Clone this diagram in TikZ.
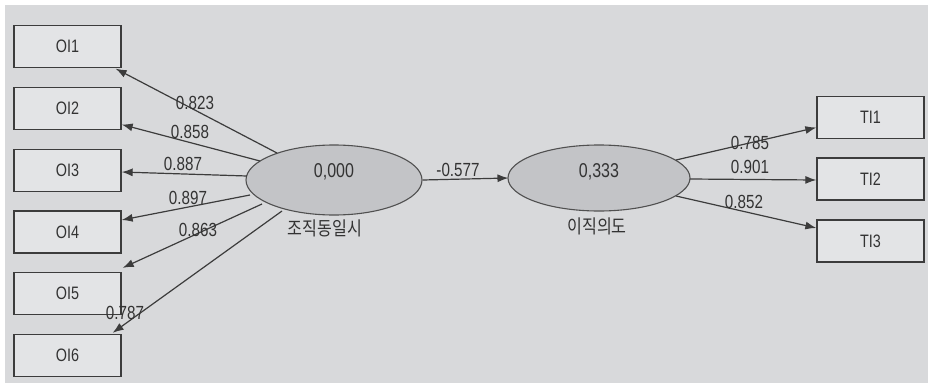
\documentclass[tikz,border=0pt]{standalone}
\usepackage{fontspec}
\setmainfont{Liberation Sans}[FakeStretch=0.8]
\newfontfamily\kfont{Noto Sans CJK KR}[FakeStretch=0.85]
\usetikzlibrary{arrows.meta,shapes.geometric}
\definecolor{panel}{HTML}{D8D9DB}
\definecolor{boxfill}{HTML}{E3E4E6}
\definecolor{latfill}{HTML}{C3C4C7}
\definecolor{edge}{HTML}{3C3C3C}
\tikzset{
  indicator/.style={draw=edge, line width=1.3pt, fill=boxfill, minimum width=107pt,
    minimum height=42pt, inner sep=0pt, font=\fontsize{18}{18}\selectfont, text=black!80},
  latent/.style={ellipse, draw=edge!90, line width=1.1pt, fill=latfill, inner sep=0pt,
    font=\fontsize{20}{20}\selectfont, text=black!80},
  path/.style={draw=edge, line width=1.2pt, -{Latex[length=11pt,width=8pt]}},
  coef/.style={font=\fontsize{19}{19}\selectfont, text=black!80, inner sep=0pt},
  klabel/.style={font=\kfont\fontsize{19}{19}\selectfont, text=black!80, inner sep=0pt}
}
\begin{document}
\begin{tikzpicture}[x=1pt, y=-1pt]
  % canvas and grey panel
  \fill[white] (0,0) rectangle (928,383);
  \fill[panel] (5,5) rectangle (928,383);
  \useasboundingbox (0,0) rectangle (928,383);

  % measured items
  \node[indicator] (oi1) at (67.5,46.5) {OI1};
  \node[indicator] (oi2) at (67.5,108.5) {OI2};
  \node[indicator] (oi3) at (67.5,170.5) {OI3};
  \node[indicator] (oi4) at (67.5,232) {OI4};
  \node[indicator] (oi5) at (67.5,293.5) {OI5};
  \node[indicator] (oi6) at (67.5,355.5) {OI6};
  \node[indicator] (ti1) at (870.5,117.5) {TI1};
  \node[indicator] (ti2) at (870.5,179) {TI2};
  \node[indicator] (ti3) at (870.5,241) {TI3};

  % latent constructs
  \node[latent, minimum width=176pt, minimum height=70pt] (org) at (334,180) {};
  \node[latent, minimum width=182pt, minimum height=66pt] (tur) at (599,178) {};
  \node[latent, draw=none, fill=none] (orgv) at (334,172) {0,000};
  \node[latent, draw=none, fill=none] (turv) at (599,172) {0,333};
  \node[klabel] (orgl) at (325,228) {조직동일시};
  \node[klabel] (turl) at (597,226) {이직의도};

  % start points on the construct outlines
  \coordinate (e1) at (277,153);
  \coordinate (e2) at (260,161);
  \coordinate (e3) at (247,176);
  \coordinate (e4) at (250,195);
  \coordinate (e5) at (262,204);
  \coordinate (e6) at (282,211);
  \coordinate (f1) at (676,160);
  \coordinate (f2) at (690,179);
  \coordinate (f3) at (676,196);

  % outer loadings (shifts are in canvas units: positive yshift moves up)
  \draw[path] (e1) -- ([xshift=-6pt,yshift=-0.5pt]oi1.south east);
  \draw[path] (e2) -- ([yshift=-16pt]oi2.east);
  \draw[path] (e3) -- ([yshift=-1.5pt]oi3.east);
  \draw[path] (e4) -- ([yshift=12pt]oi4.east);
  \draw[path] (e5) -- ([xshift=1pt,yshift=4pt]oi5.north east);
  \draw[path] (e6) -- ([xshift=-9pt,yshift=1pt]oi6.north east);
  \draw[path] (f1) -- ([yshift=-10pt]ti1.west);
  \draw[path] (f2) -- ([yshift=-1pt]ti2.west);
  \draw[path] (f3) -- ([yshift=13pt]ti3.west);

  % structural path
  \draw[path] (org.east) -- ([xshift=1pt]tur.west);

  % coefficients
  \node[coef] (c1) at (195,103) {0.823};
  \node[coef] (c2) at (190,132) {0.858};
  \node[coef] (c3) at (183,164) {0.887};
  \node[coef] (c4) at (188,198) {0.897};
  \node[coef] (c5) at (198,230) {0.863};
  \node[coef] (c6) at (125,313) {0.787};
  \node[coef] (c7) at (458,170) {-0.577};
  \node[coef] (c8) at (750,143) {0.785};
  \node[coef] (c9) at (750,167) {0.901};
  \node[coef] (c10) at (744,202) {0.852};
\end{tikzpicture}
\end{document}
